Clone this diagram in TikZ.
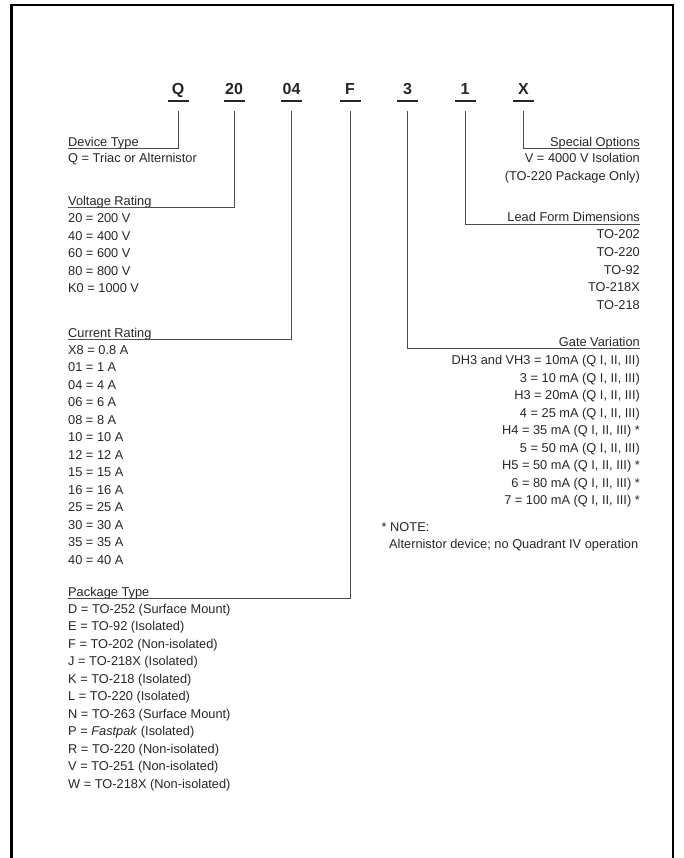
\documentclass[tikz,border=0pt]{standalone}
\usepackage{fontspec}
\setmainfont{Liberation Sans}
\begin{document}
\begin{tikzpicture}[x=1pt,y=-1pt,
  txt/.style={font=\fontsize{12.8}{14}\selectfont, inner sep=0, text=black!85},
  lt/.style={txt, anchor=base west},
  rt/.style={txt, anchor=base east},
  code/.style={font=\bfseries\fontsize{16}{18}\selectfont, anchor=base, inner sep=0, text=black!85},
  uline/.style={fill=black!85, draw=none},
  conn/.style={draw=black!70, line width=0.9pt},
  frame/.style={draw=black, line width=2.5pt}]
\useasboundingbox (0,0) rectangle (684,858);
% frame (open at the bottom)
\draw[frame] (11.5,860) -- (11.5,5) -- (673,5) -- (673,860);

% code letters
\foreach \c/\x/\n in {Q/178/cQ, 20/234/cV, 04/291.5/cI, F/350/cP, 3/407.5/cG, 1/465/cL, X/523.5/cX}{
  \node[code] (\n) at (\x,95) {\c};
  \fill[uline] (\x-10.5,99.6) rectangle (\x+10.5,102.4);
  \coordinate (\n s) at (\x,111);
}

% left side
\node[lt] (hDev) at (68,146.2) {Device Type};
\coordinate (eDev) at (68,148);
\draw[conn] (cQs) |- (eDev);
\node[lt] (iDev) at (68,163) {Q = Triac or Alternistor};

\node[lt] (hVolt) at (68,205.5) {Voltage Rating};
\coordinate (eVolt) at (68,207.3);
\draw[conn] (cVs) |- (eVolt);
\foreach \t [count=\i] in {20 = 200 V, 40 = 400 V, 60 = 600 V, 80 = 800 V, K0 = 1000 V}
  \node[lt] (v\i) at (68,{222.8+17.5*(\i-1)}) {\t};

\node[lt] (hCur) at (68,337) {Current Rating};
\coordinate (eCur) at (68,339);
\draw[conn] (cIs) |- (eCur);
\foreach \t [count=\i] in {X8 = 0.8 A, 01 = 1 A, 04 = 4 A, 06 = 6 A, 08 = 8 A, 10 = 10 A, 12 = 12 A, 15 = 15 A, 16 = 16 A, 25 = 25 A, 30 = 30 A, 35 = 35 A, 40 = 40 A}
  \node[lt] (a\i) at (68,{354+17.5*(\i-1)}) {\t};

\node[lt] (hPkg) at (68,596) {Package Type};
\coordinate (ePkg) at (68,598);
\draw[conn] (cPs) |- (ePkg);
\foreach \t [count=\i] in {{D = TO-252 (Surface Mount)}, {E = TO-92 (Isolated)}, {F = TO-202 (Non-isolated)}, {J = TO-218X (Isolated)}, {K = TO-218 (Isolated)}, {L = TO-220 (Isolated)}, {N = TO-263 (Surface Mount)}, {P = \textit{Fastpak} (Isolated)}, {R = TO-220 (Non-isolated)}, {V = TO-251 (Non-isolated)}, {W = TO-218X (Non-isolated)}}
  \node[lt] (p\i) at (68,{613+17.5*(\i-1)}) {\t};

% right side
\node[rt] (hSpec) at (640,146.2) {Special Options};
\coordinate (eSpec) at (640,148);
\draw[conn] (cXs) |- (eSpec);
\node[rt] (s1) at (640,163) {V = 4000 V Isolation};
\node[rt] (s2) at (640,180.5) {(TO-220 Package Only)};

\node[rt] (hLead) at (640,222) {Lead Form Dimensions};
\coordinate (eLead) at (640,224);
\draw[conn] (cLs) |- (eLead);
\foreach \t [count=\i] in {TO-202, TO-220, TO-92, TO-218X, TO-218}
  \node[rt] (l\i) at (640,{239+17.5*(\i-1)}) {\t};

\node[rt] (hGate) at (640,346.5) {Gate Variation};
\coordinate (eGate) at (640,348.3);
\draw[conn] (cGs) |- (eGate);
\foreach \t [count=\i] in {{DH3 and VH3 = 10mA (Q I, II, III)}, {3 = 10 mA (Q I, II, III)}, {H3 = 20mA (Q I, II, III)}, {4 = 25 mA (Q I, II, III)}, {H4 = 35 mA (Q I, II, III) *}, {5 = 50 mA (Q I, II, III)}, {H5 = 50 mA (Q I, II, III) *}, {6 = 80 mA (Q I, II, III) *}, {7 = 100 mA (Q I, II, III) *}}
  \node[rt] (g\i) at (640,{364.5+17.5*(\i-1)}) {\t};

\node[lt] (n1) at (381.5,531) {* NOTE:};
\node[lt] (n2) at (389,548) {Alternistor device; no Quadrant IV operation};
\end{tikzpicture}
\end{document}
